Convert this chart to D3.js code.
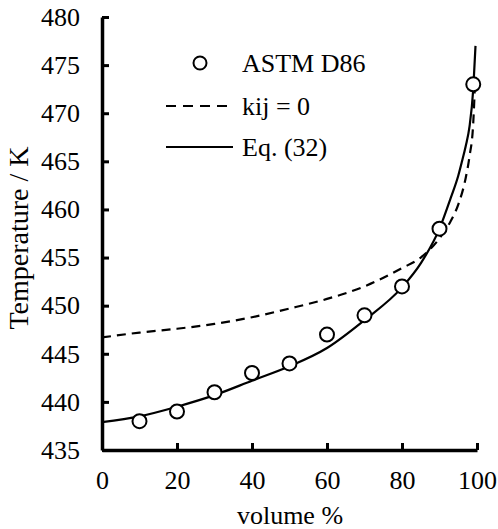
<!DOCTYPE html>
<html>
<head>
<meta charset="utf-8">
<script src="https://cdn.jsdelivr.net/npm/d3@7"></script>
<style>
  body { margin: 0; background: #fff; }
</style>
</head>
<body>
<div id="chart"></div>
<script>
// measured points (ASTM D86)
var astmVol = [10, 20, 30, 40, 50, 60, 70, 80, 90, 99];
var astmTemp = [438, 439, 441, 443, 444, 447, 449, 452, 458, 473];

// kij = 0 curve (dashed)
var kijVol = [0, 10, 20, 30, 40, 50, 60, 70, 80, 85, 90, 93, 95, 97, 98, 99, 99.4];
var kijTemp = [446.7, 447.2, 447.6, 448.1, 448.8, 449.7, 450.7, 452.0, 453.9, 455.0, 457.0, 458.8, 460.5, 463.3, 465.5, 469.0, 472.5];

// Eq. (32) curve (solid)
var eqVol = [0, 10, 20, 30, 40, 50, 60, 70, 80, 85, 90, 93, 95, 96, 97, 98, 99, 99.6];
var eqTemp = [437.9, 438.5, 439.5, 440.7, 442.2, 443.7, 445.6, 448.5, 451.9, 454.4, 458.0, 461.2, 463.5, 465.0, 466.6, 468.6, 472.5, 477.0];

var xTicks = [0, 20, 40, 60, 80, 100];
var yTicks = [435, 440, 445, 450, 455, 460, 465, 470, 475, 480];

var width = 498, height = 529;
var serif = "'Liberation Serif', serif";

var svg = d3.select("#chart").append("svg")
  .attr("width", width)
  .attr("height", height);

var x = d3.scaleLinear().domain([0, 100]).range([102, 477]);
var y = d3.scaleLinear().domain([435, 480]).range([450, 17]);

var line = d3.line()
  .x(function(d) { return x(d[0]); })
  .y(function(d) { return y(d[1]); })
  .curve(d3.curveMonotoneX);

var kijData = kijVol.map(function(v, i) { return [v, kijTemp[i]]; });
var eqData = eqVol.map(function(v, i) { return [v, eqTemp[i]]; });
var astmData = astmVol.map(function(v, i) { return [v, astmTemp[i]]; });

svg.append("path")
  .datum(kijData)
  .attr("d", line)
  .attr("fill", "none")
  .attr("stroke", "#000")
  .attr("stroke-width", 2.2)
  .attr("stroke-dasharray", "9,6");

svg.append("path")
  .datum(eqData)
  .attr("d", line)
  .attr("fill", "none")
  .attr("stroke", "#000")
  .attr("stroke-width", 2.2);

svg.selectAll(".pt")
  .data(astmData)
  .enter().append("circle")
  .attr("class", "pt")
  .attr("cx", function(d) { return x(d[0]); })
  .attr("cy", function(d) { return y(d[1]); })
  .attr("r", 7)
  .attr("fill", "#fff")
  .attr("stroke", "#000")
  .attr("stroke-width", 2);

// axes, ticks point inward
var xAxis = svg.append("g")
  .attr("transform", "translate(0," + y(435) + ")")
  .call(d3.axisBottom(x).tickValues(xTicks).tickSize(-7).tickSizeOuter(0).tickPadding(21));

var yAxis = svg.append("g")
  .attr("transform", "translate(" + x(0) + ",0)")
  .call(d3.axisLeft(y).tickValues(yTicks).tickSize(-7).tickSizeOuter(0).tickPadding(22));

[xAxis, yAxis].forEach(function(g) {
  g.select(".domain").attr("stroke", "#000").attr("stroke-width", 3.5);
  g.selectAll(".tick line").attr("stroke", "#000").attr("stroke-width", 3);
  g.selectAll(".tick text")
    .style("font-family", serif)
    .style("font-size", "26px")
    .attr("fill", "#000");
});
// no tick mark at x = 0 (sits on the y axis)
xAxis.selectAll(".tick").filter(function(d) { return d === 0; }).select("line").remove();

// axis titles
svg.append("text")
  .attr("x", 290)
  .attr("y", 524)
  .attr("text-anchor", "middle")
  .style("font-family", serif)
  .style("font-size", "26px")
  .text("volume %");

svg.append("text")
  .attr("transform", "translate(28,238) rotate(-90)")
  .attr("text-anchor", "middle")
  .style("font-family", serif)
  .style("font-size", "28px")
  .text("Temperature / K");

// legend
var legend = svg.append("g");
legend.append("circle")
  .attr("cx", 200).attr("cy", 63).attr("r", 6.5)
  .attr("fill", "#fff").attr("stroke", "#000").attr("stroke-width", 2);
legend.append("line")
  .attr("x1", 166).attr("x2", 233).attr("y1", 106).attr("y2", 106)
  .attr("stroke", "#000").attr("stroke-width", 2.2).attr("stroke-dasharray", "10,7");
legend.append("line")
  .attr("x1", 166).attr("x2", 233).attr("y1", 147).attr("y2", 147)
  .attr("stroke", "#000").attr("stroke-width", 2.2);

var legendLabels = ["ASTM D86", "kij = 0", "Eq. (32)"];
var legendY = [63, 106, 147];
legend.selectAll(".lbl")
  .data(legendLabels)
  .enter().append("text")
  .attr("class", "lbl")
  .attr("x", 242)
  .attr("y", function(d, i) { return legendY[i] + 9; })
  .style("font-family", serif)
  .style("font-size", "26px")
  .text(function(d) { return d; });
</script>
</body>
</html>
